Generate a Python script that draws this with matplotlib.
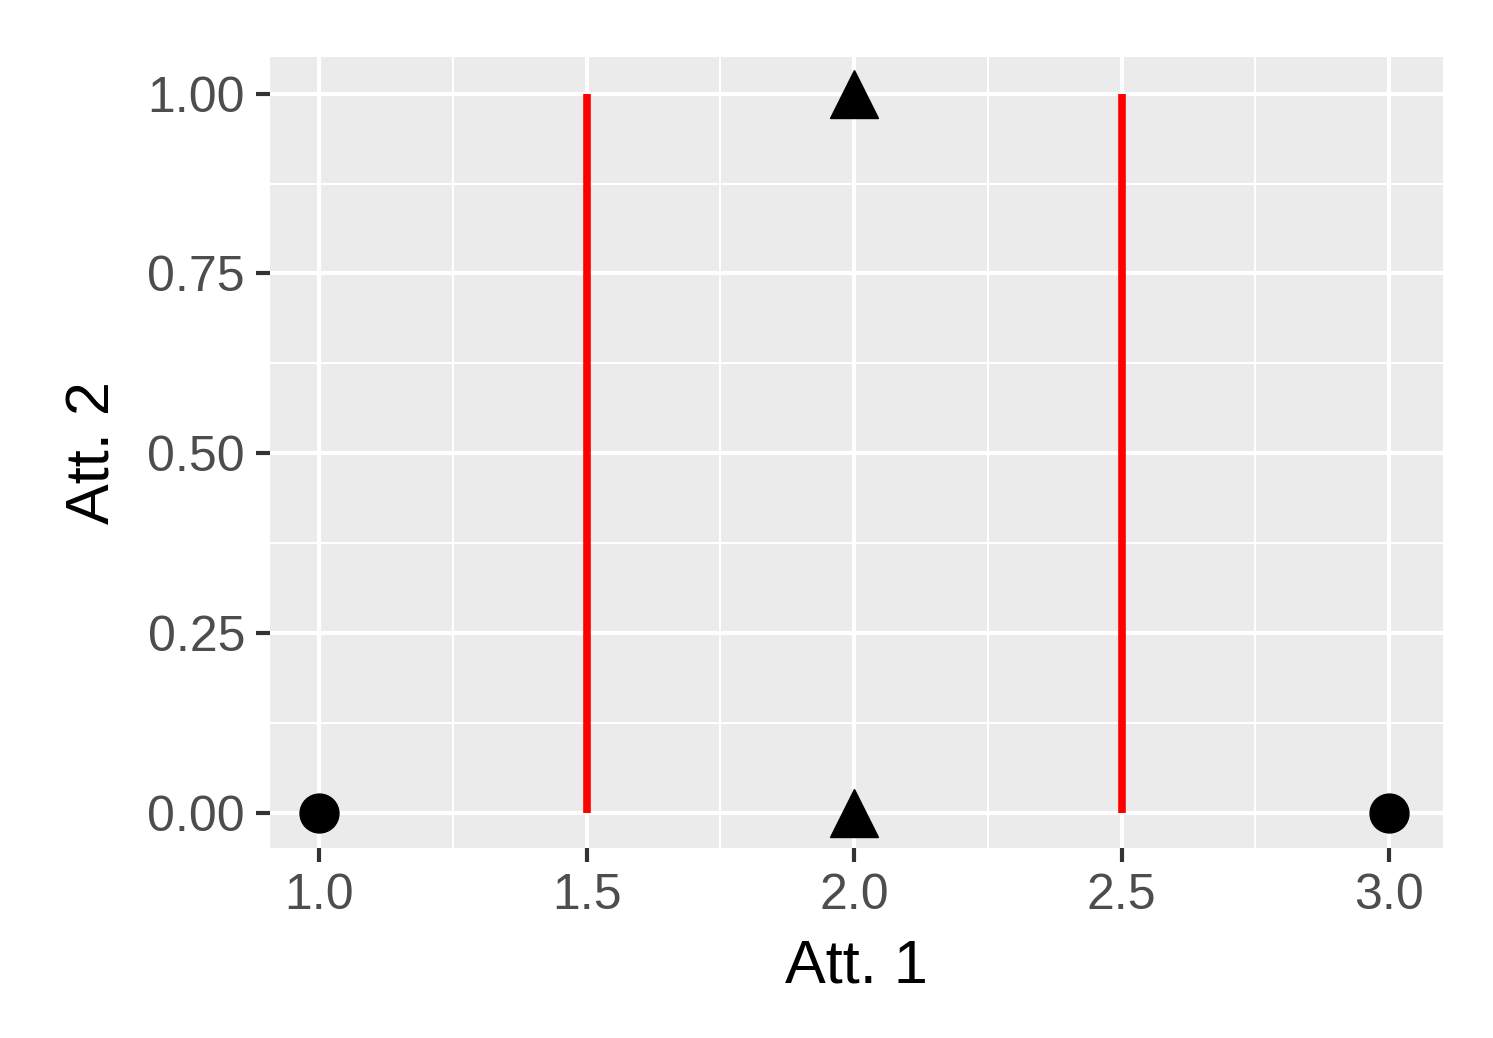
import matplotlib.pyplot as plt
import numpy as np

plt.rcParams['font.family'] = ['Liberation Sans', 'DejaVu Sans']

circle_x = [1.0, 3.0]
circle_y = [0.0, 0.0]
tri_x = [2.0, 2.0]
tri_y = [0.0, 1.0]
split_x = [1.5, 2.5]

fig = plt.figure(figsize=(14.93, 10.38), dpi=100)
ax = fig.add_axes([270/1493, 1-848/1038, (1443-270)/1493, (848-57)/1038])
ax.set_facecolor('#EBEBEB')
for s in ax.spines.values():
    s.set_visible(False)

ax.set_xlim(0.908, 3.101)
ax.set_ylim(-0.049, 1.051)
ax.set_xticks([1.0, 1.5, 2.0, 2.5, 3.0])
ax.set_xticks([1.25, 1.75, 2.25, 2.75], minor=True)
ax.set_yticks([0, 0.25, 0.5, 0.75, 1.0])
ax.set_yticklabels(['0.00', '0.25', '0.50', '0.75', '1.00'])
ax.set_yticks([0.125, 0.375, 0.625, 0.875], minor=True)
ax.grid(which='major', color='white', lw=3)
ax.grid(which='minor', color='white', lw=1.5)
ax.set_axisbelow(True)
ax.tick_params(which='major', length=10, width=3, color='#333333', labelsize=36,
               labelcolor='#4D4D4D', pad=8)
ax.tick_params(which='minor', length=0)

for x in split_x:
    ax.plot([x, x], [0, 1], color='red', lw=5.5, solid_capstyle='butt')
ax.plot(circle_x, circle_y, 'o', color='black', ms=28, clip_on=False)
ax.plot(tri_x, tri_y, '^', color='black', ms=34, clip_on=False)

ax.set_xlabel('Att. 1', fontsize=44, labelpad=14)
ax.set_ylabel('Att. 2', fontsize=44, labelpad=18)
fig.savefig('out.png', dpi=100)
